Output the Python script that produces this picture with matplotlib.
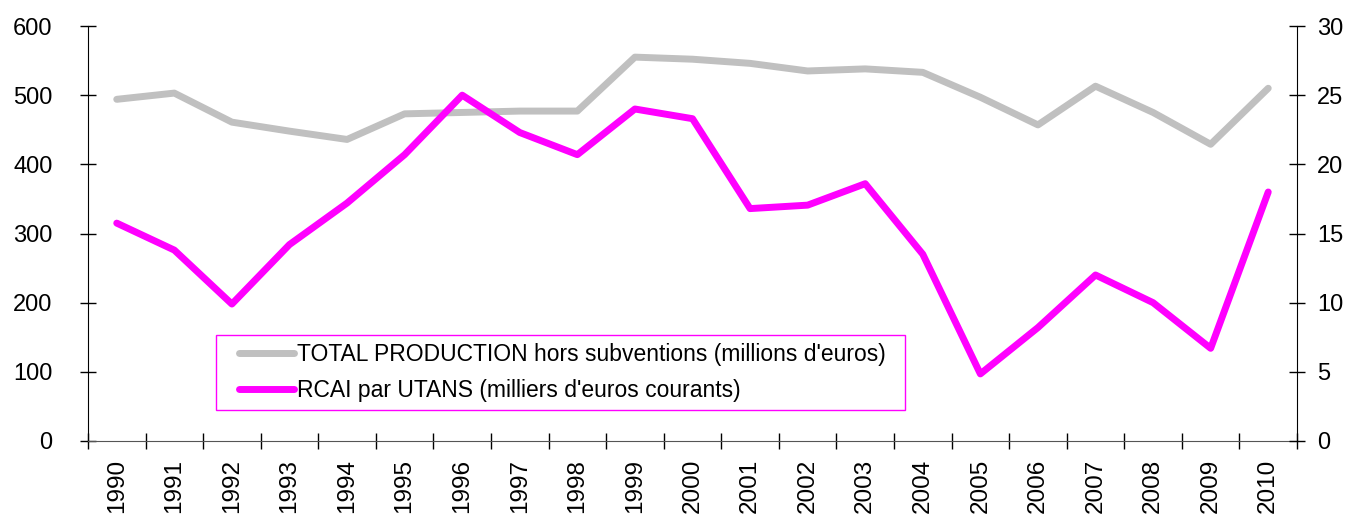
import matplotlib.pyplot as plt
from matplotlib.patches import Rectangle
from matplotlib.ticker import FixedLocator

plt.rcParams['font.family'] = ['Liberation Sans', 'DejaVu Sans']

# data
years = ['1990', '1991', '1992', '1993', '1994', '1995', '1996', '1997', '1998', '1999',
         '2000', '2001', '2002', '2003', '2004', '2005', '2006', '2007', '2008', '2009', '2010']
production = [494, 503, 461, 448, 436, 473, 475, 477, 477, 555,
              552, 546, 535, 538, 533, 497, 457, 513, 475, 429, 510]
rcai = [15.75, 13.8, 9.9, 14.2, 17.2, 20.7, 25.0, 22.3, 20.7, 24.0,
        23.3, 16.8, 17.05, 18.6, 13.5, 4.85, 8.2, 12.0, 10.0, 6.7, 18.0]

label_prod = "TOTAL PRODUCTION hors subventions (millions d'euros)"
label_rcai = "RCAI par UTANS (milliers d'euros courants)"

fig = plt.figure(figsize=(13.47, 5.15), dpi=100)
ax = fig.add_axes([0.0653, 0.1437, 0.8976, 0.8058])
ax2 = ax.twinx()

x = list(range(len(years)))
l1, = ax.plot(x, production, color='#c0c0c0', lw=5, solid_capstyle='round', label=label_prod)
l2, = ax2.plot(x, rcai, color='#ff00ff', lw=5, solid_capstyle='round', label=label_rcai)

ax.set_xlim(-0.5, len(years) - 0.5)
ax.set_ylim(0, 600)
ax2.set_ylim(0, 30)
ax.set_yticks(range(0, 601, 100))
ax2.set_yticks(range(0, 31, 5))

# category axis: ticks between years, labels centred
ax.xaxis.set_major_locator(FixedLocator([i - 0.5 for i in range(len(years) + 1)]))
ax.xaxis.set_minor_locator(FixedLocator(x))
ax.set_xticklabels([])
ax.set_xticklabels(years, minor=True, rotation=90, fontsize=17.5)
ax.tick_params(axis='x', which='major', direction='inout', length=11, width=1)
ax.tick_params(axis='x', which='minor', length=0, pad=13)

ax.tick_params(axis='y', direction='inout', length=11, width=1, labelsize=17, pad=20)
ax2.tick_params(axis='y', direction='inout', length=11, width=1, labelsize=17, pad=9)

for a in (ax, ax2):
    a.spines['top'].set_visible(False)
ax.spines['right'].set_visible(False)
ax2.spines['left'].set_visible(False)
ax2.spines['bottom'].set_visible(False)
ax.spines['bottom'].set_color('#555555')

# legend box drawn separately, entries placed inside it
ax2.add_patch(Rectangle((0.1059, 0.0747), 0.5699, 0.1807, transform=ax2.transAxes,
                        facecolor='white', edgecolor='#ff00ff', lw=1.0, zorder=5))
leg = ax2.legend(handles=[l1, l2], loc='upper left', bbox_to_anchor=(0.1249, 0.2355),
                 fontsize=16.5, frameon=False, borderpad=0, borderaxespad=0,
                 handlelength=2.4, handletextpad=0.13, labelspacing=0.55)
leg.set_zorder(6)

fig.savefig('out.png', dpi=100)
